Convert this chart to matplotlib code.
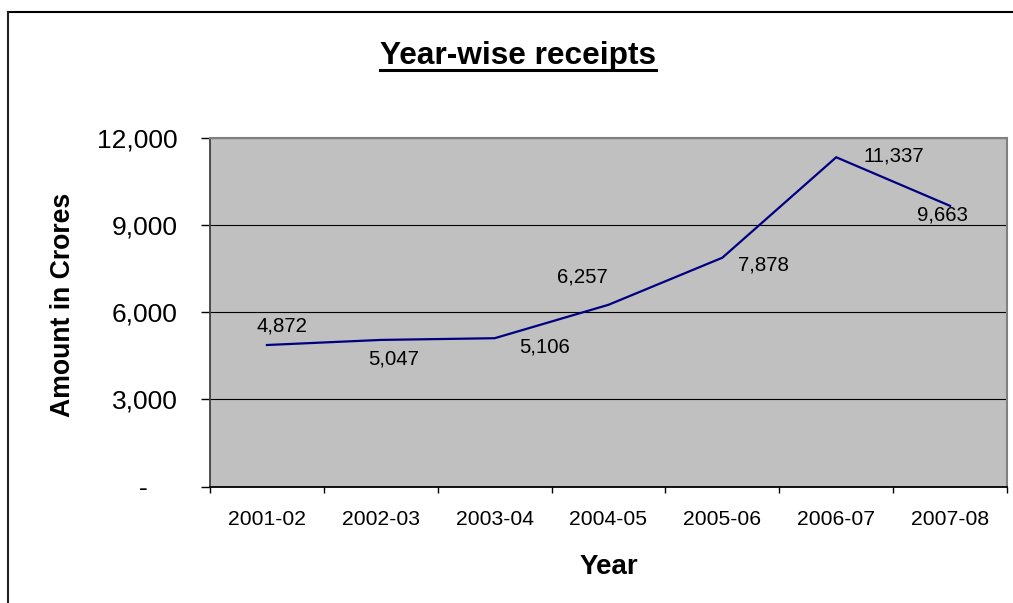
import matplotlib
matplotlib.use("Agg")
import matplotlib.pyplot as plt
from matplotlib.lines import Line2D
from matplotlib.ticker import FixedLocator

plt.rcParams['font.family'] = ['Liberation Sans', 'DejaVu Sans']

years = ["2001-02", "2002-03", "2003-04", "2004-05", "2005-06", "2006-07", "2007-08"]
receipts = [4872, 5047, 5106, 6257, 7878, 11337, 9663]
y_ticks = [0, 3000, 6000, 9000, 12000]
y_tick_labels = ["-    ", "3,000", "6,000", "9,000", "12,000"]
# label offsets in pixels (dx, dy)
label_offsets = [(15, 19), (13, -19), (50, -9), (-26, 28), (41, -7), (58, 1), (-8, -9)]

W, H = 1013, 603
fig = plt.figure(figsize=(W / 100, H / 100), dpi=100)
fig.patch.set_facecolor('white')

ax = fig.add_axes([210 / W, 1 - 486.5 / H, (1007 - 210) / W, (486.5 - 138) / H])
ax.set_facecolor('#C0C0C0')

x = list(range(len(years)))
ax.plot(x, receipts, color='#000080', lw=1.6, solid_joinstyle='miter')

for xi, v, (dx, dy) in zip(x, receipts, label_offsets):
    ax.annotate(f"{v:,}", (xi, v), xytext=(dx, dy), textcoords='offset pixels',
                ha='center', va='center', fontsize=14.7, color='black')

ax.set_xlim(-0.5, len(years) - 0.5)
ax.set_ylim(0, 12000)

ax.set_yticks(y_ticks)
ax.set_yticklabels(y_tick_labels, fontsize=19)
ax.tick_params(axis='y', direction='out', length=6.5, width=1, color='black', pad=17)

# major x ticks at category boundaries, labels at centres via minor ticks
ax.xaxis.set_major_locator(FixedLocator([i - 0.5 for i in range(len(years) + 1)]))
ax.xaxis.set_minor_locator(FixedLocator(x))
ax.set_xticklabels([], minor=False)
ax.set_xticklabels(years, minor=True, fontsize=15.2)
ax.tick_params(axis='x', which='major', direction='out', length=4, width=1, color='black')
ax.tick_params(axis='x', which='minor', length=0, pad=17)

ax.yaxis.grid(True, color='black', lw=0.8)
ax.set_axisbelow(True)

for side in ['top', 'right']:
    ax.spines[side].set_color('#808080')
    ax.spines[side].set_linewidth(1.5)
ax.spines['left'].set_color('#404040')
ax.spines['left'].set_linewidth(1.3)
ax.spines['bottom'].set_color('black')
ax.spines['bottom'].set_linewidth(1.3)

title = fig.text(518 / W, 1 - 64 / H, "Year-wise receipts", ha='center', va='baseline',
                 fontsize=22.8, fontweight='bold')
fig.text(608.5 / W, 1 - 574 / H, "Year", ha='center', va='baseline',
         fontsize=20, fontweight='bold')
fig.text(70 / W, 1 - 304.5 / H, "Amount in Crores", ha='center', va='baseline',
         rotation=90, rotation_mode='anchor', fontsize=19.2, fontweight='bold')

# outer chart border (top and left visible)
fig.add_artist(Line2D([8 / W, 1.0], [1 - 12 / H, 1 - 12 / H], transform=fig.transFigure,
                      color='black', lw=1.5))
fig.add_artist(Line2D([8 / W, 8 / W], [0, 1 - 12 / H], transform=fig.transFigure,
                      color='#202020', lw=1.5))

# underline the title
fig.canvas.draw()
bb = title.get_window_extent()
uy = (bb.y0 + 1.5) / H
fig.add_artist(Line2D([bb.x0 / W, bb.x1 / W], [uy, uy], transform=fig.transFigure,
                      color='black', lw=2.2))

fig.savefig("out.png", dpi=100)
